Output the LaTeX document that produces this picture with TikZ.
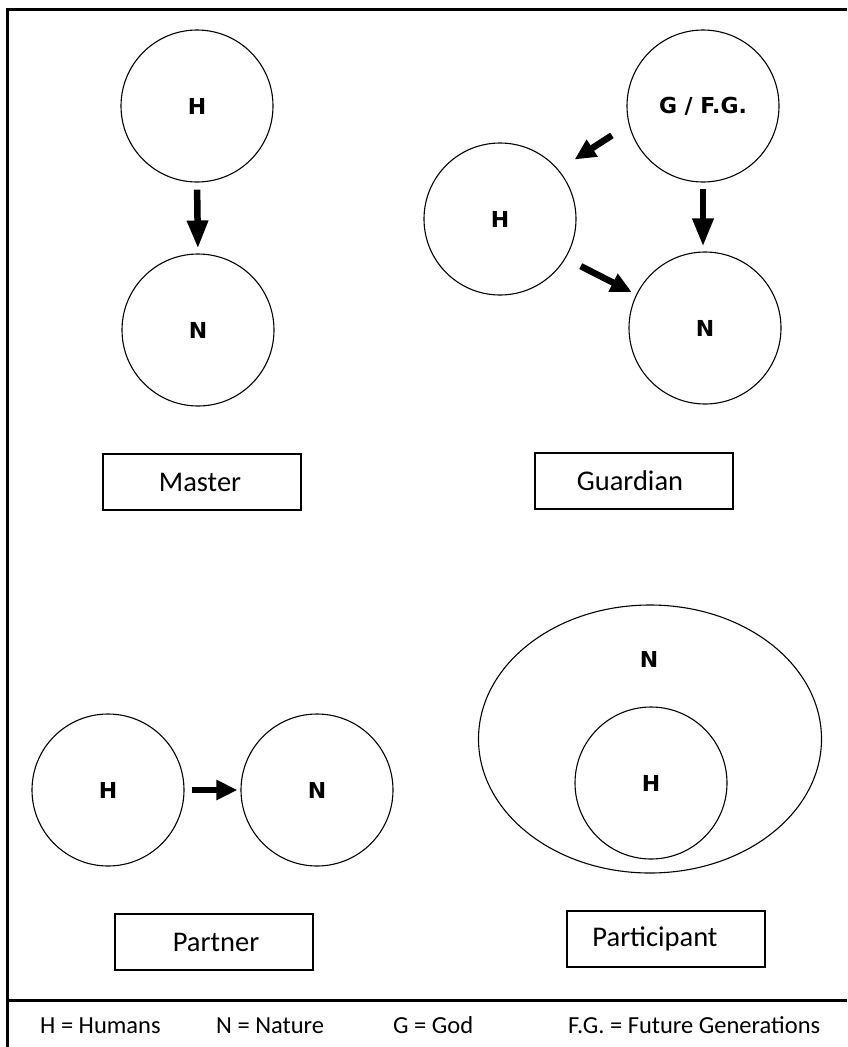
\documentclass[tikz,border=0pt]{standalone}
\usepackage{fontspec}
\setmainfont{Carlito}
\newfontfamily\letterfont{DejaVu Sans}
\usetikzlibrary{arrows.meta,shapes.geometric}

\tikzset{
  entity/.style={circle, draw, line width=1.1pt, minimum size=152pt, inner sep=0pt,
    font=\letterfont\bfseries\fontsize{22}{22}\selectfont},
  letter/.style={inner sep=0pt, font=\letterfont\bfseries\fontsize{22}{22}\selectfont},
  rolebox/.style={rectangle, draw, line width=1.3pt, minimum width=198pt, minimum height=56pt,
    inner sep=0pt, font=\fontsize{28.5}{28.5}\selectfont},
  bigarrow/.style={line width=6.5pt, -{Triangle[length=28pt,width=20pt]}},
  smallarrow/.style={line width=6.5pt, -{Triangle[length=21pt,width=19pt]}},
  legend/.style={anchor=base west, inner sep=0pt, font=\fontsize{24.5}{24.5}\selectfont},
  frame/.style={line width=3pt}
}

\begin{document}
\begin{tikzpicture}[x=1pt,y=-1pt]
\useasboundingbox (0,0) rectangle (847,1047);

% outer frame and legend separator
\coordinate (frameTL) at (7,9);
\coordinate (frameTR) at (847,9);
\coordinate (frameBL) at (7,1047);
\coordinate (sepL) at (7,1000);
\coordinate (sepR) at (847,1000);
\draw[frame] (frameTR) -- (frameTL) -- (frameBL);
\draw[frame] (sepL) -- (sepR);

% Master
\node[entity] (mH) at (197,106) {H};
\node[entity] (mN) at (198,330) {N};
\draw[bigarrow, shorten <=7pt, shorten >=5pt] (mH.south) -- (mN.north);
\node[rolebox] (mBox) at (202,482) {\hspace*{-2pt}Master\hspace*{2pt}};

% Guardian
\node[entity] (gG) at (703,106) {G / F.G.};
\node[entity] (gH) at (500,219) {H};
\node[entity] (gN) at (705,328) {N};
\draw[bigarrow, shorten <=6pt, shorten >=5pt] (gG.south) -- (gG.south |- gN.north);
\draw[smallarrow, shorten <=20pt, shorten >=19pt] (gG.194) -- (gH.40);
\draw[smallarrow, shorten <=17pt, shorten >=5pt] (gH.-31) -- (gN.154);
\node[rolebox] (gBox) at (634,481) {\hspace*{-4pt}Guardian\hspace*{4pt}};

% Partner
\node[entity] (pH) at (108,790) {H};
\node[entity] (pN) at (317,790) {N};
\draw[smallarrow, shorten <=7pt, shorten >=3pt] (pH.east) -- (pN.west);
\node[rolebox] (pBox) at (214,942) {\hspace*{2pt}Partner\hspace*{-2pt}};

% Participant
\node[ellipse, draw, line width=1.1pt, minimum width=343pt, minimum height=268pt, inner sep=0pt] (qN) at (650,739) {};
\node[letter] (qNlabel) at (649,659) {N};
\node[entity] (qH) at (651,783) {H};
\node[rolebox] (qBox) at (666,939) {\hspace*{-11pt}Participant\hspace*{11pt}};

% Legend
\node[legend] (lH) at (40,1033) {H = Humans};
\node[legend] (lN) at (216,1033) {N = Nature};
\node[legend] (lG) at (393,1033) {G = God};
\node[legend] (lF) at (568,1033) {F.G. = Future Generations};
\end{tikzpicture}
\end{document}
